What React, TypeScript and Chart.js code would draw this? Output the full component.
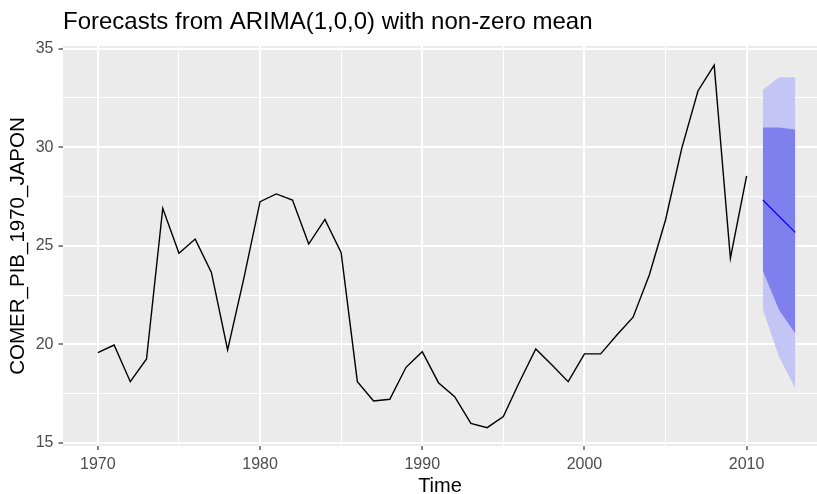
import React, { useEffect, useRef } from "react";
import { Chart, registerables } from "chart.js";

Chart.register(...registerables);

const titleText = "Forecasts from ARIMA(1,0,0) with non-zero mean";
const xAxisTitle = "Time";
const yAxisTitle = "COMER_PIB_1970_JAPON";

const years = [
  1970, 1971, 1972, 1973, 1974, 1975, 1976, 1977, 1978, 1979,
  1980, 1981, 1982, 1983, 1984, 1985, 1986, 1987, 1988, 1989,
  1990, 1991, 1992, 1993, 1994, 1995, 1996, 1997, 1998, 1999,
  2000, 2001, 2002, 2003, 2004, 2005, 2006, 2007, 2008, 2009, 2010,
];
const observed = [
  19.58, 19.97, 18.11, 19.26, 26.9, 24.62, 25.34, 23.65, 19.72, 23.35,
  27.24, 27.63, 27.32, 25.09, 26.34, 24.65, 18.11, 17.13, 17.22, 18.84,
  19.63, 18.06, 17.35, 16.0, 15.78, 16.34, 18.11, 19.77, 18.96, 18.11,
  19.52, 19.52, 20.48, 21.38, 23.52, 26.31, 29.94, 32.85, 34.16, 24.37, 28.55,
];

const forecastYears = [2011, 2012, 2013];
const forecastMean = [27.32, 26.5, 25.68];
const lower80 = [23.74, 21.75, 20.56];
const upper80 = [31.0, 31.0, 30.9];
const lower95 = [21.78, 19.38, 17.78];
const upper95 = [32.9, 33.54, 33.54];

const xTicks = [1970, 1975, 1980, 1985, 1990, 1995, 2000, 2005, 2010];
const yTicks = [15, 17.5, 20, 22.5, 25, 27.5, 30, 32.5, 35];

const FONT = "'Liberation Sans', Arial, Helvetica, sans-serif";

const pts = (xs: number[], ys: number[]) => xs.map((x, i) => ({ x, y: ys[i] }));

const panelBg = {
  id: "panelBg",
  beforeDraw(chart: any) {
    const { ctx, chartArea } = chart;
    ctx.save();
    ctx.fillStyle = "#EBEBEB";
    ctx.fillRect(chartArea.left, chartArea.top, chartArea.right - chartArea.left, chartArea.bottom - chartArea.top);
    ctx.restore();
  },
};

export default function App() {
  const ref = useRef<HTMLCanvasElement | null>(null);

  useEffect(() => {
    if (!ref.current) return;
    const band = { pointRadius: 0, borderWidth: 0, tension: 0 };
    const chart = new Chart(ref.current, {
      type: "line",
      data: {
        datasets: [
          { ...band, label: "hi95", data: pts(forecastYears, upper95), fill: "+1", backgroundColor: "rgb(196,196,245)", borderColor: "rgba(0,0,0,0)", order: 6 },
          { ...band, label: "lo95", data: pts(forecastYears, lower95), fill: false, borderColor: "rgba(0,0,0,0)", order: 6 },
          { ...band, label: "hi80", data: pts(forecastYears, upper80), fill: "+1", backgroundColor: "rgb(127,127,237)", borderColor: "rgba(0,0,0,0)", order: 4 },
          { ...band, label: "lo80", data: pts(forecastYears, lower80), fill: false, borderColor: "rgba(0,0,0,0)", order: 4 },
          { label: "mean", data: pts(forecastYears, forecastMean), borderColor: "#0000FF", borderWidth: 1.2, pointRadius: 0, fill: false, order: 2 },
          { label: "observed", data: pts(years, observed), borderColor: "#000000", borderWidth: 1.4, pointRadius: 0, fill: false, order: 1 },
        ],
      },
      options: {
        responsive: false,
        animation: false,
        devicePixelRatio: 1,
        layout: { padding: 0 },
        plugins: {
          legend: { display: false },
          tooltip: { enabled: false },
          title: {
            display: true,
            text: titleText,
            align: "start",
            fullSize: false,
            color: "#000000",
            font: { family: FONT, size: 24, weight: "normal" },
            padding: { top: 8, bottom: 9.2 },
          },
        },
        scales: {
          x: {
            type: "linear",
            min: 1967.85,
            max: 2014.34,
            afterBuildTicks: (scale: any) => {
              scale.ticks = xTicks.map((v) => ({ value: v }));
            },
            afterFit: (scale: any) => {
              scale.height = 48;
            },
            border: { display: false },
            grid: {
              color: "#FFFFFF",
              lineWidth: (c: any) => (c.tick && c.tick.value % 10 === 0 ? 2 : 1),
              tickColor: (c: any) => (c.tick && c.tick.value % 10 === 0 ? "#333333" : "rgba(0,0,0,0)"),
              tickWidth: 1.2,
              tickLength: 4,
              drawTicks: true,
            },
            ticks: {
              autoSkip: false,
              maxRotation: 0,
              padding: 5,
              color: "#4D4D4D",
              font: { family: FONT, size: 16 },
              callback: (v: any) => (Number(v) % 10 === 0 ? String(v) : ""),
            },
            title: {
              display: true,
              text: xAxisTitle,
              color: "#000000",
              font: { family: FONT, size: 20 },
              padding: { top: 0, bottom: -4 },
            },
          },
          y: {
            type: "linear",
            min: 14.85,
            max: 35.13,
            afterBuildTicks: (scale: any) => {
              scale.ticks = yTicks.map((v) => ({ value: v }));
            },
            afterFit: (scale: any) => {
              scale.width = 63;
            },
            border: { display: false },
            grid: {
              color: "#FFFFFF",
              lineWidth: (c: any) => (c.tick && c.tick.value % 5 === 0 ? 2 : 1),
              tickColor: (c: any) => (c.tick && c.tick.value % 5 === 0 ? "#333333" : "rgba(0,0,0,0)"),
              tickWidth: 1.2,
              tickLength: 4.5,
              drawTicks: true,
            },
            ticks: {
              autoSkip: false,
              padding: 5,
              color: "#4D4D4D",
              font: { family: FONT, size: 16 },
              callback: (v: any) => (Number(v) % 5 === 0 ? String(v) : ""),
            },
            title: {
              display: true,
              text: yAxisTitle,
              color: "#000000",
              font: { family: FONT, size: 20.5 },
              padding: { top: 6.5, bottom: 0 },
            },
          },
        },
      } as any,
      plugins: [panelBg],
    });
    return () => chart.destroy();
  }, []);

  return (
    <div style={{ position: "absolute", left: 0, top: 0, width: 817, height: 494, background: "#FFFFFF" }}>
      <canvas ref={ref} width={817} height={494} style={{ display: "block", width: 817, height: 494 }} />
    </div>
  );
}
